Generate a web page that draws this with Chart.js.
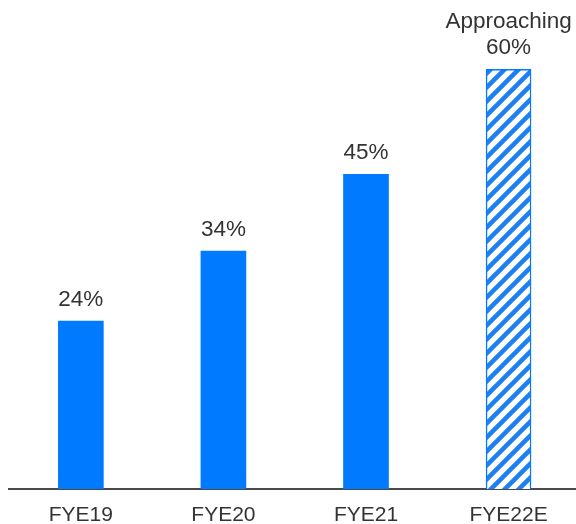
<!DOCTYPE html>
<html>
<head>
<meta charset="utf-8">
<script src="https://cdn.jsdelivr.net/npm/chart.js@4/dist/chart.umd.min.js"></script>
<style>
  html, body { margin: 0; padding: 0; background: #fff; overflow: hidden; }
  #wrap { width: 576px; height: 524px; position: relative; }
</style>
</head>
<body>
<div id="wrap"><canvas id="barChart"></canvas></div>
<script>
// chart data
var categories = ["FYE19", "FYE20", "FYE21", "FYE22E"];
var values = [24, 34, 45, 60];
var valueLabels = [["24%"], ["34%"], ["45%"], ["Approaching", "60%"]];
var estimated = [false, false, false, true];

var blue = "#007AFF";
var textCol = "#333333";

// diagonal stripes for the estimate bar
function stripePattern() {
    var c = document.createElement("canvas");
    c.width = 14; c.height = 14;
    var g = c.getContext("2d");
    g.fillStyle = "#ffffff";
    g.fillRect(0, 0, 14, 14);
    g.strokeStyle = "#1C7FF2";
    g.lineWidth = 4.5;
    g.beginPath();
    g.moveTo(-7, 7); g.lineTo(7, -7);
    g.moveTo(0, 14); g.lineTo(14, 0);
    g.moveTo(7, 21); g.lineTo(21, 7);
    g.stroke();
    return g.createPattern(c, "repeat");
}
var hatch = stripePattern();

var points = values.map(function(v, i){ return {x: i, y: v}; });

var valueLabelPlugin = {
    id: "valueLabels",
    afterDatasetsDraw: function(chart) {
        var ctx = chart.ctx;
        var meta = chart.getDatasetMeta(0);
        ctx.save();
        ctx.fillStyle = textCol;
        ctx.font = "22.5px 'Liberation Sans', Arial, sans-serif";
        ctx.textAlign = "center";
        ctx.textBaseline = "alphabetic";
        meta.data.forEach(function(bar, i) {
            var lines = valueLabels[i];
            for (var k = 0; k < lines.length; k++) {
                var y = bar.y - 15 - (lines.length - 1 - k) * 26;
                ctx.fillText(lines[k], bar.x, y);
            }
        });
        ctx.restore();
    }
};

var ctx = document.getElementById("barChart").getContext("2d");
var chart = new Chart(ctx, {
    type: "bar",
    data: {
        datasets: [{
            data: points,
            backgroundColor: estimated.map(function(e){ return e ? hatch : blue; }),
            borderColor: blue,
            borderWidth: estimated.map(function(e){ return e ? 1.5 : 0; }),
            borderSkipped: "bottom",
            barThickness: 45
        }]
    },
    options: {
        responsive: true,
        maintainAspectRatio: false,
        animation: false,
        // tick padding is counted on both sides, so pull the bottom back in
        layout: { padding: { left: 9, right: 0, top: 0, bottom: -18 } },
        plugins: {
            legend: { display: false },
            tooltip: { enabled: false }
        },
        scales: {
            x: {
                type: "linear",
                offset: false,
                min: -0.504,
                max: 3.473,
                grid: { display: false, drawTicks: false, tickLength: 0 },
                border: { display: true, color: "#4a4a4a", width: 2 },
                afterBuildTicks: function(axis) {
                    axis.ticks = categories.map(function(c, i){ return {value: i}; });
                },
                ticks: {
                    color: textCol,
                    padding: 17,
                    font: { family: "'Liberation Sans', Arial, sans-serif", size: 21, lineHeight: 0.9 },
                    callback: function(v) { return categories[v]; }
                }
            },
            y: {
                display: false,
                min: 0,
                max: 69.9
            }
        }
    },
    plugins: [valueLabelPlugin]
});
</script>
</body>
</html>
